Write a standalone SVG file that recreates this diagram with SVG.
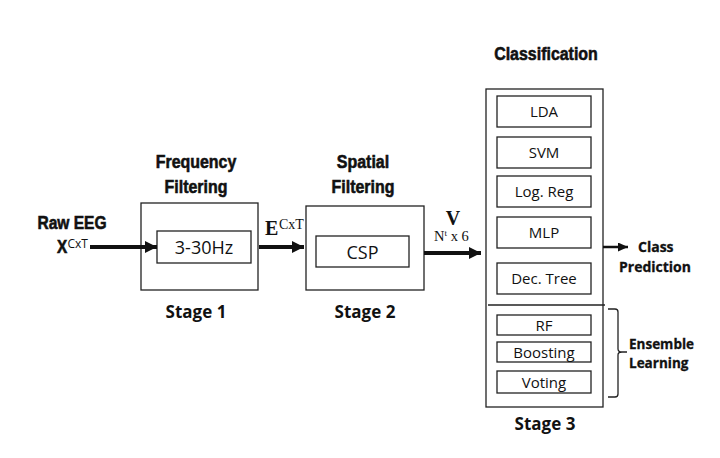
<svg xmlns="http://www.w3.org/2000/svg" width="720" height="458" viewBox="0 0 720 458">
<defs>
<style>
.box{fill:#fff;stroke:#222;stroke-width:1.3}
.ln{fill:none;stroke:#222;stroke-width:1.3}
.hd{font-family:"Liberation Sans",Arial,sans-serif;font-weight:bold;font-size:19px;fill:#111;stroke:#111;stroke-width:0.6;text-anchor:middle}
.lb{font-family:"Open Sans","Liberation Sans",sans-serif;font-size:15px;fill:#111;text-anchor:middle}
.big{font-size:18px}
.st{font-family:"Open Sans","Liberation Sans",sans-serif;font-weight:bold;font-size:17px;fill:#111;text-anchor:middle}
.sm{font-family:"Open Sans","Liberation Sans",sans-serif;font-weight:bold;font-size:13.5px;fill:#111;stroke:#111;stroke-width:0.3}
.cp{font-size:14px}
.mt{font-family:"Liberation Serif","Times New Roman",serif;fill:#111}
.ar{stroke:#111;fill:none}
</style>
<marker id="ah" markerUnits="userSpaceOnUse" viewBox="0 0 12 12" refX="12" refY="6" markerWidth="12" markerHeight="12" orient="auto">
<path d="M0,0 L12,6 L0,12 z" fill="#111"/>
</marker>
<marker id="ahs" markerUnits="userSpaceOnUse" viewBox="0 0 10 9" refX="10" refY="4.5" markerWidth="10" markerHeight="9" orient="auto">
<path d="M0,0 L10,4.5 L0,9 z" fill="#111"/>
</marker>
</defs>
<rect width="720" height="458" fill="#fff"/>

<g id="input">
<text class="hd" transform="translate(72,229) scale(0.82,1)">Raw EEG</text>
<text class="hd" transform="translate(62,253) scale(0.85,1)" style="font-size:18px">X</text>
<text x="67.5" y="248" font-family="Open Sans, Liberation Sans, sans-serif" font-size="12" fill="#111">CxT</text>
</g>

<g id="stage1">
<text class="hd" transform="translate(196,168) scale(0.84,1)">Frequency</text>
<text class="hd" transform="translate(196,193) scale(0.84,1)">Filtering</text>
<rect class="box" x="141" y="203" width="117" height="87"/>
<rect class="box" x="157" y="231" width="94" height="32"/>
<text class="lb big" x="204" y="254">3-30Hz</text>
<text class="st" x="196" y="318">Stage 1</text>
</g>

<g id="stage2">
<text class="hd" transform="translate(363,168) scale(0.84,1)">Spatial</text>
<text class="hd" transform="translate(363,193) scale(0.84,1)">Filtering</text>
<rect class="box" x="306" y="206" width="118" height="84"/>
<rect class="box" x="316" y="236" width="93" height="31"/>
<text class="lb big" x="362.5" y="259">CSP</text>
<text class="st" x="365" y="318">Stage 2</text>
</g>

<g id="stage3">
<text class="hd" transform="translate(546,60) scale(0.84,1)">Classification</text>
<rect class="box" x="486" y="89" width="117" height="318"/>
<rect class="box" x="497" y="96" width="94" height="31"/>
<text class="lb" x="544" y="117">LDA</text>
<rect class="box" x="497" y="137" width="94" height="31"/>
<text class="lb" x="544" y="158">SVM</text>
<rect class="box" x="497" y="176" width="94" height="31"/>
<text class="lb" x="544" y="197">Log. Reg</text>
<rect class="box" x="497" y="217" width="94" height="31"/>
<text class="lb" x="544" y="238">MLP</text>
<rect class="box" x="497" y="263" width="94" height="31"/>
<text class="lb" x="544" y="284">Dec. Tree</text>
<line class="ln" x1="488" y1="305" x2="605" y2="305"/>
<rect class="box" x="497" y="315" width="94" height="20"/>
<text class="lb" x="544" y="331">RF</text>
<rect class="box" x="497" y="342" width="94" height="20"/>
<text class="lb" x="544" y="358">Boosting</text>
<rect class="box" x="497" y="371" width="94" height="22"/>
<text class="lb" x="544" y="388">Voting</text>
<text class="st" x="545" y="430">Stage 3</text>
</g>

<g id="ensemble">
<path class="ln" d="M608,309 L615,309 Q618,309 618,312 L618,349 Q618,352 622,352 L627,352 M622,352 Q618,352 618,355 L618,394 Q618,397 615,397 L608,397"/>
<text class="sm" x="629" y="349">Ensemble</text>
<text class="sm" x="629" y="368">Learning</text>
</g>

<g id="output">
<text class="sm cp" x="638" y="252">Class</text>
<text class="sm cp" x="619" y="272">Prediction</text>
</g>

<g id="labels">
<text class="mt" x="265" y="235" font-size="20" font-weight="bold">E</text>
<text class="mt" x="279" y="229" font-size="14">CxT</text>
<text class="mt" x="453" y="225" font-size="20" font-weight="bold" text-anchor="middle">V</text>
<text class="mt" x="434" y="241" font-size="14.5">N<tspan font-size="9" dy="-5">t</tspan><tspan dy="5"> x 6</tspan></text>
</g>

<g id="connectors">
<line class="ar" x1="90" y1="247" x2="157" y2="247" stroke-width="4" marker-end="url(#ah)"/>
<line class="ar" x1="259" y1="247" x2="304" y2="247" stroke-width="4" marker-end="url(#ah)"/>
<line class="ar" x1="424" y1="253" x2="481" y2="253" stroke-width="4" marker-end="url(#ah)"/>
<line class="ar" x1="603" y1="247" x2="628" y2="247" stroke-width="2.5" marker-end="url(#ahs)"/>
</g>
</svg>
